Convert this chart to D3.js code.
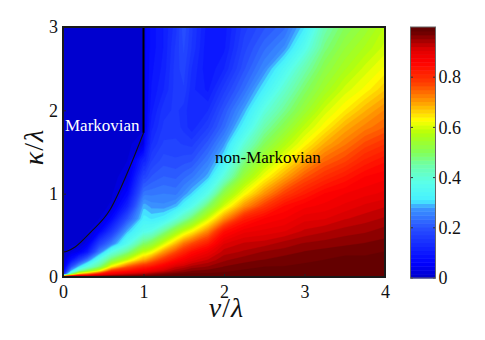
<!DOCTYPE html>
<html><head><meta charset="utf-8">
<style>html,body{margin:0;padding:0;background:#fff}svg{display:block}
text{font-family:"Liberation Serif",serif;fill:#111}</style>
<script src="https://cdn.jsdelivr.net/npm/d3@7/dist/d3.min.js"></script></head>
<body><svg id="c" width="485" height="340"></svg>
<script>
const nuValues=[0,.1,.2,.3,.45,.6,.8,1,1.02,1.1,1.25,1.4,1.5,1.6,1.8,2,2.25,2.5,2.75,3,3.25,3.5,3.75,4];
const kappaValues=[0,.03,.07,.12,.2,.3,.4,.55,.7,.85,1,1.2,1.4,1.6,1.8,2,2.25,2.5,2.75,3];
const gridByNu=[
[.9,.12,.05,.02,.008,.004,0,0,0,0,0,0,0,0,0,0,0,0,0,0],
[1,.5,.3,.2,.09,.03,.01,.005,0,0,0,0,0,0,0,0,0,0,0,0],
[1,.7,.45,.31,.17,.05,.015,.005,0,0,0,0,0,0,0,0,0,0,0,0],
[1,.75,.52,.39,.25,.1,.04,.01,.005,0,0,0,0,0,0,0,0,0,0,0],
[1,.85,.63,.48,.39,.25,.17,.06,.015,.005,0,0,0,0,0,0,0,0,0,0],
[1,.9,.8,.64,.5,.38,.25,.15,.07,.02,.01,.005,0,0,0,0,0,0,0,0],
[1,.93,.84,.76,.6,.47,.37,.29,.2,.12,.07,.03,.015,.01,.01,.01,.01,.01,.01,.01],
[1,.95,.88,.82,.7,.59,.49,.37,.32,.29,.24,.18,.12,.03,.012,.012,.012,.012,.012,.012],
[1,.95,.88,.82,.7,.59,.49,.37,.32,.29,.245,.18,.12,.08,.06,.06,.06,.06,.06,.06],
[1,.96,.9,.84,.74,.62,.52,.385,.31,.275,.245,.205,.17,.14,.12,.105,.095,.09,.085,.085],
[1,.975,.925,.88,.8,.705,.6,.46,.325,.27,.25,.22,.195,.175,.16,.15,.125,.115,.11,.11],
[1,.985,.95,.92,.85,.77,.68,.54,.39,.29,.245,.215,.19,.175,.165,.16,.165,.165,.16,.15],
[1,.99,.96,.93,.875,.81,.735,.59,.44,.33,.27,.23,.195,.17,.15,.15,.17,.18,.19,.2],
[1,.99,.97,.945,.9,.845,.77,.63,.49,.37,.3,.245,.2,.165,.13,.125,.13,.14,.155,.16],
[1,.99,.975,.955,.925,.885,.825,.72,.6,.49,.38,.29,.25,.21,.17,.14,.105,.095,.095,.1],
[1,.995,.98,.97,.95,.93,.905,.84,.71,.6,.525,.4,.32,.275,.23,.205,.165,.125,.105,.1],
[1,.995,.99,.975,.965,.94,.925,.885,.82,.71,.625,.54,.47,.4,.33,.285,.235,.2,.18,.165],
[1,.995,.99,.985,.97,.955,.93,.895,.86,.785,.71,.625,.56,.5,.445,.39,.32,.265,.23,.2],
[1,.995,.99,.985,.98,.96,.945,.905,.875,.845,.78,.695,.625,.57,.515,.465,.41,.35,.27,.23],
[1,.995,.995,.99,.98,.97,.955,.925,.9,.87,.825,.76,.69,.63,.585,.535,.49,.44,.37,.31],
[1,1,.995,.99,.985,.975,.96,.935,.905,.88,.86,.8,.745,.69,.635,.6,.55,.515,.475,.44],
[1,1,.995,.995,.99,.98,.965,.945,.92,.895,.875,.83,.775,.73,.69,.64,.6,.56,.53,.5],
[1,1,1,.995,.99,.98,.97,.95,.93,.91,.885,.86,.815,.77,.725,.685,.63,.6,.565,.535],
[1,1,1,.995,.99,.985,.975,.96,.94,.92,.895,.87,.84,.795,.75,.72,.67,.63,.6,.58]];
const boundaryNu=[0,.05,.15,.335,.58,.83,1];
const boundaryKappa=[.3,.31,.36,.53,.8,1.32,1.73];
const verticalNu=[1,1];
const verticalKappa=[1.73,3];
const colorStops=[0,.06,.2,.28,.31,.38,.45,.5,.58,.63,.7,.78,.86,.91,.95,.985,1];
const colorValues=["#0000c8","#0000ff","#2850ff","#3c96ff","#46f0ff","#5affeb","#6effaa","#82ff5a","#b4ff0a","#ffff00","#ffa000","#ff3c00","#ff0000","#e00000","#a00000","#640000","#640000"];
const levelCount=64;
const xTicks=[0,1,2,3,4];
const yTicks=[0,1,2,3];
const barTicks=[0,.2,.4,.6,.8];

const svg=d3.select("#c");
const x=d3.scaleLinear().domain([0,4]).range([63,385]);
const y=d3.scaleLinear().domain([0,3]).range([277,27]);
const barY=d3.scaleLinear().domain([0,1]).range([278,27]);
const ramp=d3.scaleLinear().domain(colorStops).range(colorValues).interpolate(d3.interpolateRgb);
const levelColor=i=>ramp((i+.5)/levelCount);

const nx=nuValues.length,ny=kappaValues.length;
const flat=[];
for(let j=0;j<ny;j++)for(let i=0;i<nx;i++)flat.push(gridByNu[i][j]);
const nuAt=d3.scaleLinear().domain(nuValues.map((_,i)=>i+.5)).range(nuValues).clamp(true);
const kaAt=d3.scaleLinear().domain(kappaValues.map((_,i)=>i+.5)).range(kappaValues).clamp(true);
const path=d3.geoPath(d3.geoTransform({point(a,b){this.stream.point(x(nuAt(a)),y(kaAt(b)));}}));
const thresholds=d3.range(levelCount).map(i=>i/levelCount);
const bands=d3.contours().size([nx,ny]).smooth(true).thresholds(thresholds)(flat);
const plot=svg.append("g");
plot.append("rect").attr("x",x(0)).attr("y",y(3)).attr("width",x(4)-x(0)).attr("height",y(0)-y(3)).attr("fill",levelColor(0));
plot.selectAll("path").data(bands).join("path").attr("d",path)
  .attr("fill",(d,i)=>levelColor(i)).attr("stroke",(d,i)=>levelColor(i)).attr("stroke-width",.3);

const curve=d3.line().x(d=>x(d[0])).y(d=>y(d[1]));
svg.append("path").attr("d",curve.curve(d3.curveMonotoneX)(d3.zip(boundaryNu,boundaryKappa)))
  .attr("fill","none").attr("stroke","#111").attr("stroke-width",1.1);
svg.append("path").attr("d",d3.line().x(d=>x(d[0])).y(d=>y(d[1]))(d3.zip(verticalNu,verticalKappa)))
  .attr("fill","none").attr("stroke","#000").attr("stroke-width",2);

svg.append("text").attr("x",65).attr("y",131).attr("font-size",17).style("fill","#fff").text("Markovian");
svg.append("text").attr("x",215).attr("y",163).attr("font-size",17).style("fill","#000").text("non-Markovian");

function styleAxis(g){
  g.attr("font-family",null).attr("font-size",null);
  g.select(".domain").remove();
  g.selectAll(".tick line").attr("stroke","#222").attr("stroke-width",1);
  g.selectAll("text").style("font-size","18px").style("font-family","'Liberation Serif',serif").style("fill","#111");
}
svg.append("g").attr("transform","translate(0,277)")
  .call(d3.axisBottom(x).tickValues(xTicks).tickFormat(d3.format("d")).tickSize(-3).tickPadding(8)).call(styleAxis);
svg.append("g").attr("transform","translate(63,0)")
  .call(d3.axisLeft(y).tickValues(yTicks).tickFormat(d3.format("d")).tickSize(-3).tickPadding(5)).call(styleAxis);
svg.append("rect").attr("x",63).attr("y",27).attr("width",322).attr("height",250)
  .attr("fill","none").attr("stroke","#1a1a1a").attr("stroke-width",2);

const xl=svg.append("text").attr("x",226).attr("y",317).attr("text-anchor","middle").style("font-size","28px");
xl.append("tspan").attr("font-style","italic").text("ν");
xl.append("tspan").attr("dx",1).text("/");
xl.append("tspan").attr("dx",1).attr("font-style","italic").text("λ");
const yl=svg.append("text").attr("transform","translate(43,147.5) rotate(-90)").attr("text-anchor","middle").style("font-size","28px");
yl.append("tspan").attr("font-style","italic").text("κ");
yl.append("tspan").attr("dx",1).text("/");
yl.append("tspan").attr("dx",1).attr("font-style","italic").text("λ");

const bar=svg.append("g");
bar.selectAll("rect").data(d3.range(levelCount)).join("rect")
  .attr("x",410.5).attr("width",25)
  .attr("y",i=>barY((i+1)/levelCount)).attr("height",i=>barY(i/levelCount)-barY((i+1)/levelCount)+.5)
  .attr("fill",levelColor);
svg.append("g").attr("transform","translate(435.5,0)")
  .call(d3.axisRight(barY).tickValues(barTicks).tickFormat(d=>d===0?"0":d3.format(".1f")(d)).tickSize(0).tickPadding(3)).call(styleAxis);
bar.selectAll("line.l").data(barTicks).join("line").attr("class","l")
  .attr("x1",410.5).attr("x2",413).attr("y1",d=>barY(d)).attr("y2",d=>barY(d)).attr("stroke","#333");
bar.selectAll("line.r").data(barTicks).join("line").attr("class","r")
  .attr("x1",433).attr("x2",435.5).attr("y1",d=>barY(d)).attr("y2",d=>barY(d)).attr("stroke","#333");
svg.append("rect").attr("x",410.5).attr("y",27).attr("width",25).attr("height",251)
  .attr("fill","none").attr("stroke","#666").attr("stroke-width",1);
</script></body></html>
